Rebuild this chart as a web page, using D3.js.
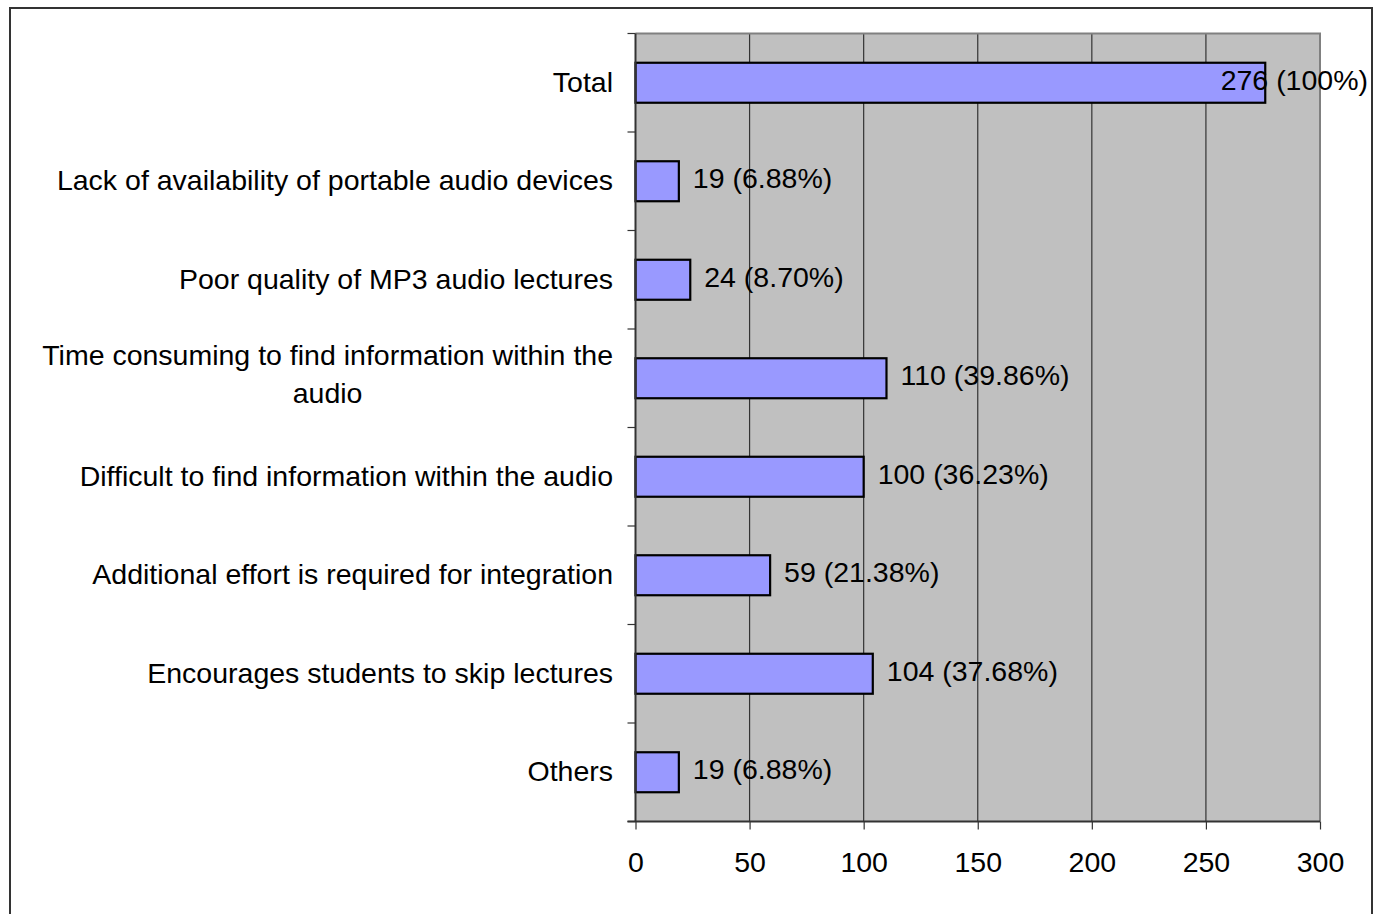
<!DOCTYPE html>
<html><head><meta charset="utf-8">
<script src="https://cdn.jsdelivr.net/npm/d3@7"></script>
<style>
html,body{margin:0;padding:0;background:#fff;}
svg{display:block;}
text{font-family:"Liberation Sans",Arial,sans-serif;fill:#000;}
</style></head>
<body>
<svg id="chart" width="1375" height="914"></svg>
<script>
const categories = [
  "Total",
  "Lack of availability of portable audio devices",
  "Poor quality of MP3 audio lectures",
  "Time consuming to find information within the audio",
  "Difficult to find information within the audio",
  "Additional effort is required for integration",
  "Encourages students to skip lectures",
  "Others"
];
const values = [276, 19, 24, 110, 100, 59, 104, 19];
const percents = ["100%", "6.88%", "8.70%", "39.86%", "36.23%", "21.38%", "37.68%", "6.88%"];
const xTicks = [0, 50, 100, 150, 200, 250, 300];
// label lines for wrapped categories
const categoryLines = [
  ["Total"],
  ["Lack of availability of portable audio devices"],
  ["Poor quality of MP3 audio lectures"],
  ["Time consuming to find information within the", "audio"],
  ["Difficult to find information within the audio"],
  ["Additional effort is required for integration"],
  ["Encourages students to skip lectures"],
  ["Others"]
];

const svg = d3.select("#chart");
const L = 635.5, R = 1320, T = 33.5, B = 821.5;
const FS = 28.5;

// outer frame
svg.append("rect").attr("x",10).attr("y",8).attr("width",1362).attr("height",930)
  .attr("fill","#fff").attr("stroke","#333").attr("stroke-width",2);

const x = d3.scaleLinear().domain([0,300]).range([L,R]);
const y = d3.scaleBand().domain(categories).range([T,B]).paddingInner(0.594).paddingOuter(0.297);
const band = d3.scaleBand().domain(categories).range([T,B]);

// plot background
svg.append("rect").attr("x",L).attr("y",T).attr("width",R-L).attr("height",B-T).attr("fill","#C0C0C0");

// gridlines
svg.append("g").selectAll("line").data(xTicks.filter(d=>d>0 && d<300)).join("line")
  .attr("x1",d=>x(d)).attr("x2",d=>x(d)).attr("y1",T).attr("y2",B)
  .attr("stroke","#333").attr("stroke-width",1.2);

// plot border top/right
svg.append("path").attr("d",`M${L},${T}H${R}V${B}`).attr("fill","none").attr("stroke","#808080").attr("stroke-width",2);

// bars
svg.append("g").selectAll("rect").data(values).join("rect")
  .attr("x",x(0)).attr("y",(d,i)=>y(categories[i]))
  .attr("width",d=>x(d)-x(0)).attr("height",y.bandwidth())
  .attr("fill","#9999FF").attr("stroke","#000").attr("stroke-width",2.2);

// x axis
const xAxis = d3.axisBottom(x).tickValues(xTicks).tickSize(8);
const gx = svg.append("g").attr("transform",`translate(0,${B})`).call(xAxis);
gx.select(".domain").attr("stroke","#333").attr("stroke-width",2).attr("d",`M${L-8},0H${R}`);
gx.selectAll(".tick line").attr("stroke","#333").attr("stroke-width",1.2);
gx.selectAll(".tick text").attr("font-size",FS).attr("font-family","Liberation Sans, Arial, sans-serif")
  .attr("fill","#000").attr("y",50.5).attr("dy",0);

// y axis (band boundaries as ticks)
const gy = svg.append("g");
gy.append("line").attr("x1",L).attr("x2",L).attr("y1",T).attr("y2",B).attr("stroke","#333").attr("stroke-width",2);
const bounds = categories.map(c=>band(c)).concat([B]);
gy.selectAll("line.tk").data(bounds).join("line").attr("class","tk")
  .attr("x1",L-8).attr("x2",L).attr("y1",d=>d).attr("y2",d=>d).attr("stroke","#333").attr("stroke-width",1.2);

// category labels
const cg = svg.append("g");
categoryLines.forEach((lines,i)=>{
  const cy = band(categories[i]) + band.bandwidth()/2;
  const lh = 38;
  if(lines.length===1){
    cg.append("text").attr("x",613).attr("y",cy+9).attr("text-anchor","end").attr("font-size",FS).text(lines[0]);
  } else {
    const t = cg.append("text").attr("font-size",FS).attr("text-anchor","middle");
    const tmp = cg.append("text").attr("font-size",FS).text(lines[0]);
    const w = tmp.node().getComputedTextLength(); tmp.remove();
    const cx = 613 - w/2;
    lines.forEach((ln,k)=>{
      t.append("tspan").attr("x",cx).attr("y",cy + 6 + (k - (lines.length-1)/2)*lh).text(ln);
    });
  }
});

// value labels
const vg = svg.append("g");
values.forEach((v,i)=>{
  const cy = y(categories[i]) + y.bandwidth()/2;
  const t = vg.append("text").attr("font-size",FS).attr("y",cy+7).text(`${v} (${percents[i]})`);
  const w = t.node().getComputedTextLength();
  let tx = x(v) + 14;
  if (tx + w > 1368) tx = 1368 - w;
  t.attr("x",tx);
});
</script>
</body></html>
